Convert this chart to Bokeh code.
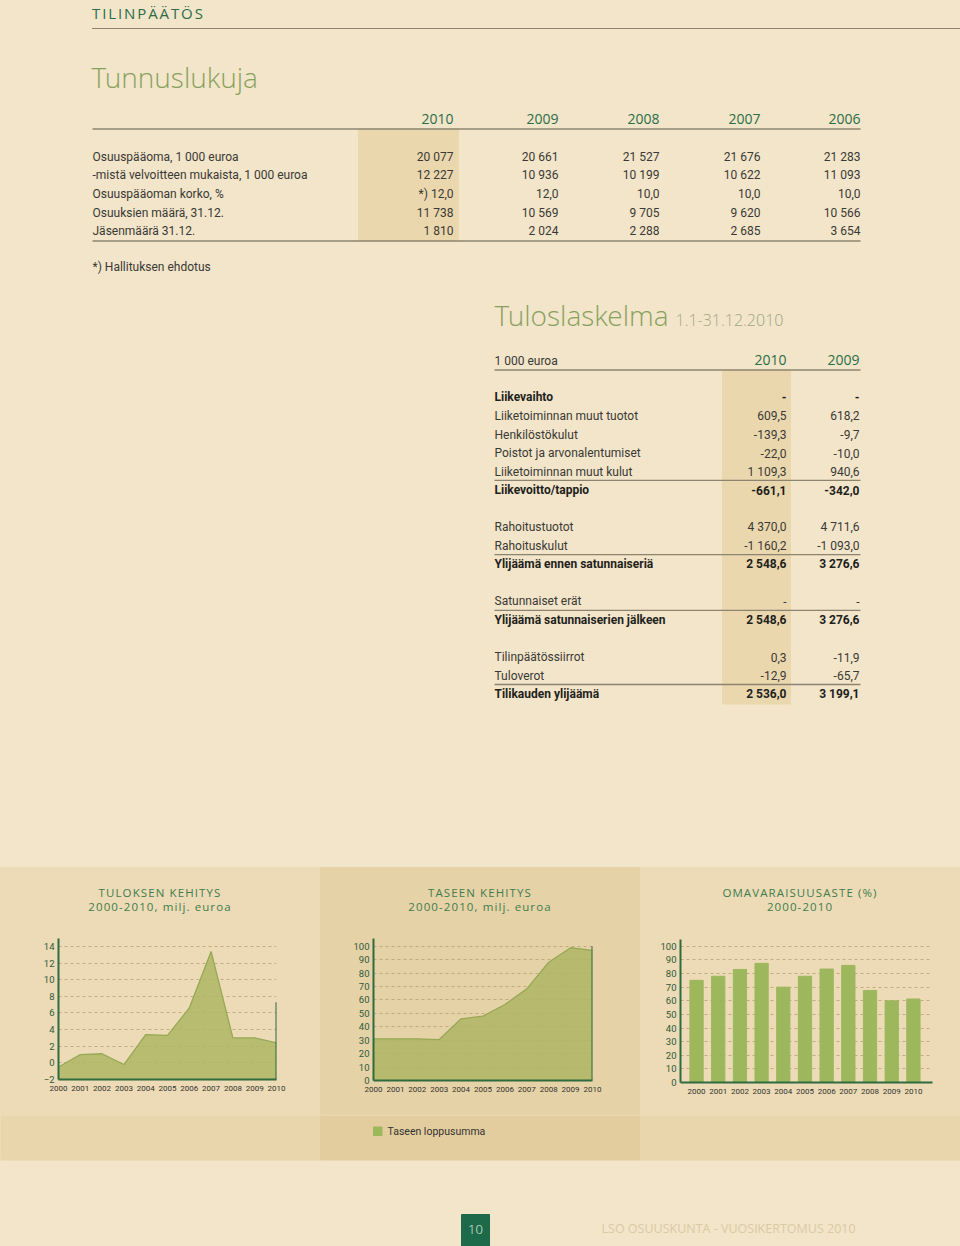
from bokeh.plotting import figure
from bokeh.layouts import column, row
from bokeh.models import Range1d, FixedTicker, Div
from bokeh.core.properties import value
from bokeh.embed import file_html
from bokeh.resources import INLINE

# ------------------------------------------------------------------ data
section_title = "TILINPÄÄTÖS"
kpi_years = ["2010", "2009", "2008", "2007", "2006"]
kpi_labels = ["Osuuspääoma, 1 000 euroa",
              "-mistä velvoitteen mukaista, 1 000 euroa",
              "Osuuspääoman korko, %",
              "Osuuksien määrä, 31.12.",
              "Jäsenmäärä 31.12."]
kpi_2010 = ["20 077", "12 227", "*) 12,0", "11 738", "1 810"]
kpi_2009 = ["20 661", "10 936", "12,0", "10 569", "2 024"]
kpi_2008 = ["21 527", "10 199", "10,0", "9 705", "2 288"]
kpi_2007 = ["21 676", "10 622", "10,0", "9 620", "2 685"]
kpi_2006 = ["21 283", "11 093", "10,0", "10 566", "3 654"]
kpi_note = "*) Hallituksen ehdotus"

is_years = ["2010", "2009"]
is_labels = ["Liikevaihto", "Liiketoiminnan muut tuotot", "Henkilöstökulut",
             "Poistot ja arvonalentumiset", "Liiketoiminnan muut kulut",
             "Liikevoitto/tappio", "",
             "Rahoitustuotot", "Rahoituskulut", "Ylijäämä ennen satunnaiseriä", "",
             "Satunnaiset erät", "Ylijäämä satunnaiserien jälkeen", "",
             "Tilinpäätössiirrot", "Tuloverot", "Tilikauden ylijäämä"]
is_2010 = ["-", "609,5", "-139,3", "-22,0", "1 109,3", "-661,1", "",
           "4 370,0", "-1 160,2", "2 548,6", "", "-", "2 548,6", "",
           "0,3", "-12,9", "2 536,0"]
is_2009 = ["-", "618,2", "-9,7", "-10,0", "940,6", "-342,0", "",
           "4 711,6", "-1 093,0", "3 276,6", "", "-", "3 276,6", "",
           "-11,9", "-65,7", "3 199,1"]
is_bold = [True, False, False, False, False, True, False,
           False, False, True, False, False, True, False,
           False, False, True]

years = [2000, 2001, 2002, 2003, 2004, 2005, 2006, 2007, 2008, 2009, 2010]
result_meur = [-0.5, 1.0, 1.1, -0.2, 3.4, 3.3, 6.6, 13.4, 3.0, 3.0, 2.4]
balance_meur = [31.0, 31.0, 31.0, 30.5, 45.9, 47.9, 56.6, 68.2, 88.0, 98.8, 96.8]
equity_ratio_pct = [75.0, 78.0, 83.0, 87.5, 70.0, 78.0, 83.3, 86.0, 67.6, 60.0, 61.3]
result_ticks = [-2, 0, 2, 4, 6, 8, 10, 12, 14]
balance_ticks = [0, 10, 20, 30, 40, 50, 60, 70, 80, 90, 100]
pct_ticks = [0, 10, 20, 30, 40, 50, 60, 70, 80, 90, 100]
result_edge_top = 7.3
balance_edge_top = 100
chart_titles = [["TULOKSEN KEHITYS", "2000-2010, milj. euroa"],
                ["TASEEN KEHITYS", "2000-2010, milj. euroa"],
                ["OMAVARAISUUSASTE (%)", "2000-2010"]]
legend_label = "Taseen loppusumma"

# ------------------------------------------------------------------ styles
SANS = "Open Sans"
LIGHT = "Open Sans Light, Open Sans"
NARROW = "Roboto"
PAGE_BG = "#f2e5c9"
HILITE = "#ead7ae"
HEAD_GREEN = "#2b6d47"
TITLE_GREEN = "#88a160"
DARK = "#3a3935"
BOLD_DARK = "#1f1f1c"
RULE = "#8d8470"
PANEL_A = "#ecdbb6"
PANEL_B = "#e6d2a7"
PANEL_A2 = "#e9d6ac"
PANEL_B2 = "#e3cd9f"
AXIS_GREEN = "#2f6b3c"
GRID = "#c2ab80"
AREA_FILL = "#aeb664"
AREA_LINE = "#97a955"
BAR = "#9db75c"
CHART_TITLE = "#3f7d4c"
BODY = 12
BASE_SHIFT = 0.4   # renderer places the alphabetic baseline this fraction of the size lower


def txt(p, xs, ys, texts, size, color, font=NARROW, align="left", style="normal"):
    p.text(x=xs, y=[y - BASE_SHIFT * size for y in ys], text=texts, text_align=align,
           text_baseline="alphabetic", text_font=value(font),
           text_font_size=value(f"{size}px"), text_color=color, text_font_style=style)


def blank(width, height, x0, x1, y0, y1, bg):
    return figure(width=width, height=height, x_range=Range1d(x0, x1), y_range=Range1d(y1, y0),
                  x_axis_type=None, y_axis_type=None, min_border=0,
                  output_backend="svg", toolbar_location=None,
                  background_fill_color=bg, border_fill_color=bg,
                  outline_line_color=None, styles={"background-color": bg})


# ------------------------------------------------------------------ header (letter-spaced)
header = Div(
    text=('<div style="position:relative;width:960px;height:40px;">'
          '<div style="position:absolute;left:92px;top:2.5px;line-height:20px;'
          'font-size:15px;letter-spacing:1.9px;color:' + HEAD_GREEN + ';">'
          + section_title + '</div>'
          '<div style="position:absolute;left:92px;width:868px;top:27.5px;height:0;'
          'border-top:1.6px solid ' + RULE + ';"></div></div>'),
    width=960, height=40,
    styles={"background-color": PAGE_BG, "font-family": SANS, "margin": "0", "padding": "0",
            "overflow": "hidden"})

# ------------------------------------------------------------------ top page
top = blank(960, 827, 0, 960, 40, 867, PAGE_BG)
txt(top, [91], [88], ["Tunnuslukuja"], 28, TITLE_GREEN, font=LIGHT)

# key figure table
T1_LEFT, T1_RIGHT = 92, 860
T1_COLS = [453, 558, 659, 760, 860]
T1_ROW0, T1_STEP = 161, 18.6
top.quad(left=[358], right=[458], top=[128.5], bottom=[240], color=HILITE)
txt(top, T1_COLS, [124] * len(kpi_years), kpi_years, 14, HEAD_GREEN, font=SANS, align="right")
top.segment(x0=[T1_LEFT, T1_LEFT], y0=[128.5, 240.5], x1=[T1_RIGHT, T1_RIGHT], y1=[128.5, 240.5],
            line_color=RULE, line_width=1.5)
row_y = [T1_ROW0 + i * T1_STEP for i in range(len(kpi_labels))]
txt(top, [T1_LEFT] * len(kpi_labels), row_y, kpi_labels, BODY, DARK)
for cx, col in zip(T1_COLS, [kpi_2010, kpi_2009, kpi_2008, kpi_2007, kpi_2006]):
    txt(top, [cx] * len(col), row_y, col, BODY, DARK, align="right")
txt(top, [T1_LEFT], [271], [kpi_note], BODY, DARK)

# income statement
T2_LEFT, T2_RIGHT = 494, 860
T2_COLS = [786, 859]
T2_ROW0, T2_STEP = 401.7, 18.55
txt(top, [494], [326], ["Tuloslaskelma"], 28, TITLE_GREEN, font=LIGHT)
txt(top, [675], [326], ["1.1-31.12.2010"], 16, "#a3a68a", font=LIGHT)
top.quad(left=[722], right=[790], top=[369.5], bottom=[703.5], color=HILITE)
txt(top, [T2_LEFT], [365], ["1 000 euroa"], BODY, DARK)
txt(top, T2_COLS, [365, 365], is_years, 14, HEAD_GREEN, font=SANS, align="right")
top.segment(x0=[T2_LEFT], y0=[369.5], x1=[T2_RIGHT], y1=[369.5], line_color=RULE, line_width=1.5)

ys = [T2_ROW0 + i * T2_STEP for i in range(len(is_labels))]
for bold in (False, True):
    idx = [i for i in range(len(is_labels)) if is_bold[i] == bold and is_labels[i]]
    st = "bold" if bold else "normal"
    col_c = BOLD_DARK if bold else DARK
    txt(top, [T2_LEFT] * len(idx), [ys[i] for i in idx], [is_labels[i] for i in idx],
        BODY, col_c, style=st)
    txt(top, [T2_COLS[0]] * len(idx), [ys[i] for i in idx], [is_2010[i] for i in idx],
        BODY, col_c, align="right", style=st)
    txt(top, [T2_COLS[1]] * len(idx), [ys[i] for i in idx], [is_2009[i] for i in idx],
        BODY, col_c, align="right", style=st)
rule_y = [ys[i] - 14.5 for i in range(1, len(is_labels)) if is_bold[i]]
top.segment(x0=[T2_LEFT] * len(rule_y), y0=rule_y, x1=[T2_RIGHT] * len(rule_y), y1=rule_y,
            line_color=RULE, line_width=1.3)


# ------------------------------------------------------------------ charts
def chart(ml, mr, mt, mb, xr, yr, ticks, bg):
    p = figure(width=320, height=188, x_range=xr, y_range=yr,
               output_backend="svg", toolbar_location=None,
               min_border_left=ml, min_border_right=mr,
               min_border_top=mt, min_border_bottom=mb,
               background_fill_color=bg, border_fill_color=bg,
               outline_line_color=None, styles={"background-color": bg})
    p.xaxis.ticker = FixedTicker(ticks=years)
    p.yaxis.ticker = FixedTicker(ticks=ticks)
    for ax in p.axis:
        ax.axis_line_color = AXIS_GREEN
        ax.axis_line_width = 2
        ax.major_tick_line_color = None
        ax.minor_tick_line_color = None
        ax.major_tick_out = 0
        ax.major_tick_in = 0
        ax.major_label_text_font = NARROW
    p.xaxis.major_label_text_font_size = "8px"
    p.xaxis.major_label_text_color = "#333330"
    p.xaxis.major_label_standoff = 6
    p.yaxis.major_label_text_font_size = "9.5px"
    p.yaxis.major_label_text_color = "#2f5a3b"
    p.yaxis.major_label_standoff = 4
    p.xgrid.grid_line_color = None
    p.ygrid.grid_line_color = GRID
    p.ygrid.grid_line_dash = "3 3"
    p.ygrid.grid_line_width = 1
    return p


def title_div(i, bg):
    html = ('<div style="padding-top:18.6px;line-height:14.4px;text-align:center;'
            'width:320px;letter-spacing:1.1px;">' + chart_titles[i][0] + '<br>'
            + chart_titles[i][1] + '</div>')
    return Div(text=html, width=320, height=60,
               styles={"background-color": bg, "font-family": SANS, "font-size": "11.5px",
                       "color": CHART_TITLE, "margin": "0", "padding": "0",
                       "overflow": "hidden"})


c1 = chart(58, 44, 11, 36, Range1d(2000, 2010), Range1d(-2, 14.96), result_ticks, PANEL_A)
c1.varea(x=years, y1=result_ticks[0], y2=result_meur, fill_color=AREA_FILL, fill_alpha=0.85)
c1.line(x=years, y=result_meur, line_color=AREA_LINE, line_width=1.3)
c1.segment(x0=[years[-1]], y0=[result_ticks[0]], x1=[years[-1]], y1=[result_edge_top],
           line_color=AXIS_GREEN, line_width=2)

c2 = chart(53, 48, 11, 35, Range1d(2000, 2010), Range1d(0, 105.7), balance_ticks, PANEL_B)
c2.varea(x=years, y1=balance_ticks[0], y2=balance_meur, fill_color=AREA_FILL, fill_alpha=0.85)
c2.line(x=years, y=balance_meur, line_color=AREA_LINE, line_width=1.3)
c2.segment(x0=[years[-1]], y0=[balance_ticks[0]], x1=[years[-1]], y1=[balance_edge_top],
           line_color=AXIS_GREEN, line_width=2)

c3 = chart(40, 28, 12, 33, Range1d(1999.26, 2010.88), Range1d(0, 105), pct_ticks, PANEL_A)
c3.vbar(x=years, top=equity_ratio_pct, bottom=0, width=0.61, color=BAR)

panels = row(column(title_div(0, PANEL_A), c1),
             column(title_div(1, PANEL_B), c2),
             column(title_div(2, PANEL_A), c3))

# ------------------------------------------------------------------ bottom
bot = blank(960, 131, 0, 960, 1115, 1246, PAGE_BG)
bot.quad(left=[0, 320, 640], right=[320, 640, 960], top=[1115, 1115, 1115],
         bottom=[1159.5, 1159.5, 1159.5], color=[PANEL_A2, PANEL_B2, PANEL_A2])
bot.quad(left=[373], right=[381.5], top=[1126.5], bottom=[1135], color=BAR)
txt(bot, [387], [1135], [legend_label], 10.5, "#333330")
bot.quad(left=[461], right=[489], top=[1214], bottom=[1246], color="#1d6a4b")
txt(bot, [475], [1234], ["10"], 13, "#e6efe6", font=LIGHT, align="center")
txt(bot, [601], [1233], ["LSO OSUUSKUNTA - VUOSIKERTOMUS 2010"], 12.5, "#d9caa4", font=SANS)

page = column(header, top, panels, bot)
open("out.html", "w").write(file_html(page, INLINE))
